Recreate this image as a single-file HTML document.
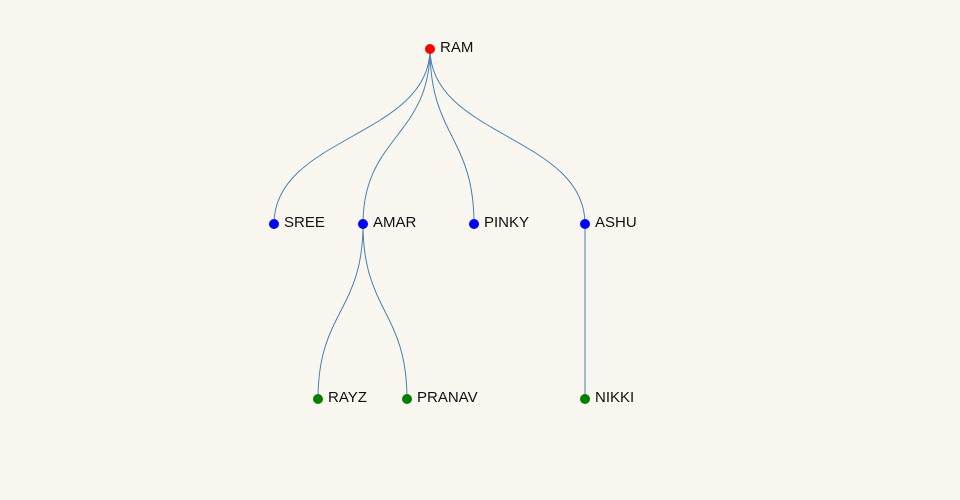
<!DOCTYPE html>
<html><head><style>
html,body{margin:0;padding:0;background:#faf7f1;}
svg{display:block}
text{font-family:"Liberation Sans","DejaVu Sans",sans-serif;font-size:15px;fill:#111;}
</style></head><body>
<svg width="960" height="500" viewBox="0 0 960 500">
<g fill="none" stroke="#4682b4" stroke-width="1">
<path d="M430,49 C430,136.5 274,136.5 274,224"/>
<path d="M430,49 C430,136.5 363,136.5 363,224"/>
<path d="M430,49 C430,136.5 474,136.5 474,224"/>
<path d="M430,49 C430,136.5 585,136.5 585,224"/>
<path d="M363,224 C363,311.5 318,311.5 318,399"/>
<path d="M363,224 C363,311.5 407,311.5 407,399"/>
<path d="M585,224 L585,399"/>
</g>
<circle cx="430" cy="49" r="5" fill="red"/>
<circle cx="274" cy="224" r="5" fill="blue"/>
<circle cx="363" cy="224" r="5" fill="blue"/>
<circle cx="474" cy="224" r="5" fill="blue"/>
<circle cx="585" cy="224" r="5" fill="blue"/>
<circle cx="318" cy="399" r="5" fill="green"/>
<circle cx="407" cy="399" r="5" fill="green"/>
<circle cx="585" cy="399" r="5" fill="green"/>
<text x="440" y="52">RAM</text>
<text x="284" y="227">SREE</text>
<text x="373" y="227">AMAR</text>
<text x="484" y="227">PINKY</text>
<text x="595" y="227">ASHU</text>
<text x="328" y="402">RAYZ</text>
<text x="417" y="402">PRANAV</text>
<text x="595" y="402">NIKKI</text>
</svg>
</body></html>
